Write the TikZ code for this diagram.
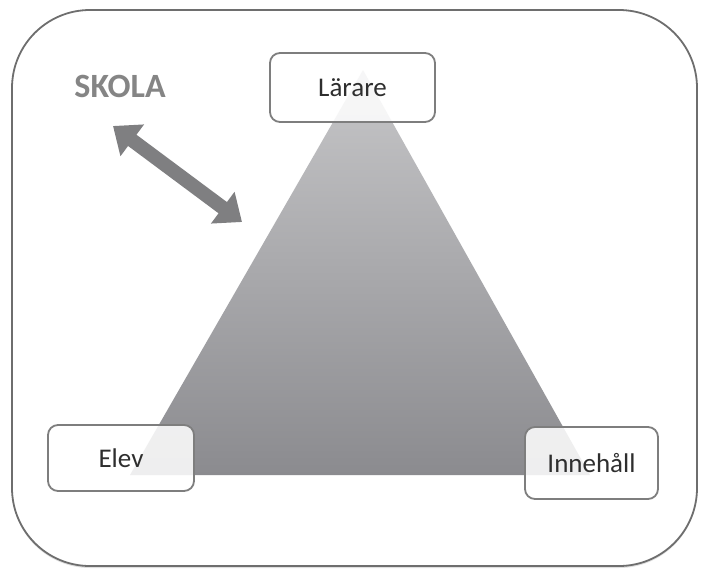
\documentclass[tikz,border=0pt]{standalone}
\usepackage{fontspec}
\setmainfont{Carlito}
\usetikzlibrary{arrows.meta,shadows}
\definecolor{frameline}{HTML}{6E6E6E}
\definecolor{boxline}{HTML}{7E7E7E}
\definecolor{arrowgray}{HTML}{7F7F81}
\definecolor{titlegray}{HTML}{858585}
\definecolor{labeltext}{HTML}{2E2E2E}
\definecolor{trianglelight}{HTML}{C6C6C8}
\definecolor{triangledark}{HTML}{8B8B8F}
\tikzset{
  rolebox/.style={draw=boxline, line width=1.8pt, rounded corners=10pt,
    fill=white, fill opacity=0.86, text opacity=1, text=labeltext,
    font=\fontsize{27}{30}\selectfont, inner sep=0pt},
  frame/.style={draw=frameline, line width=1.8pt, rounded corners=78pt,
    fill=white, drop shadow={shadow xshift=0pt, shadow yshift=-2pt, opacity=0.25}},
  linkarrow/.style={draw=arrowgray, line width=14pt,
    {Triangle[width=38pt,length=24pt]}-{Triangle[width=38pt,length=24pt]}},
}
\begin{document}
\begin{tikzpicture}[x=1pt,y=-1pt]
  \useasboundingbox (0,0) rectangle (703,573);

  % school frame
  \path[frame] (12,10) rectangle (697,566);

  % didactic triangle
  \coordinate (apex) at (363,70);
  \coordinate (left) at (130,475);
  \coordinate (right) at (590,475);
  \shade[top color=trianglelight, bottom color=triangledark]
    (apex) -- (right) -- (left) -- cycle;

  % corners of the triangle
  \node[rolebox, minimum width=165pt, minimum height=69pt] (larare) at (352.5,87.5) {Lärare};
  \node[rolebox, minimum width=146pt, minimum height=66pt] (elev) at (121,458) {Elev};
  \node[rolebox, minimum width=133pt, minimum height=72pt] (innehall) at (591.5,463) {Innehåll};

  % school label and its link to the triangle
  \node[text=titlegray, font=\fontsize{34}{36}\selectfont\bfseries] (skola) at (120,86) {SKOLA};
  \coordinate (linkA) at (113,126);
  \coordinate (linkB) at (242,222);
  \draw[linkarrow] (linkA) -- (linkB);
\end{tikzpicture}
\end{document}
